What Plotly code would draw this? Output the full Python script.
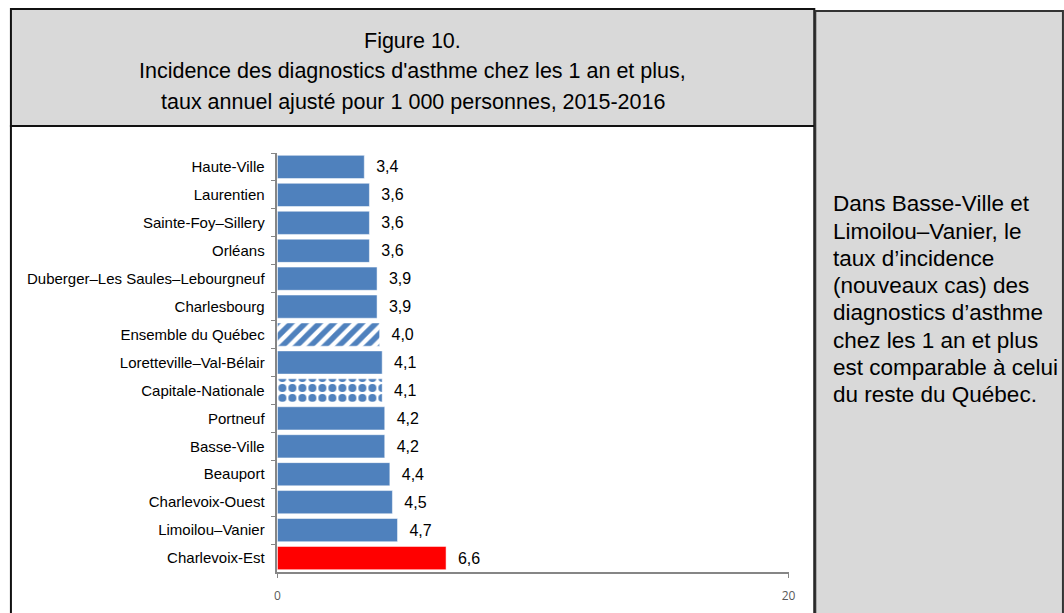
import plotly.graph_objects as go

categories = ["Haute-Ville", "Laurentien", "Sainte-Foy–Sillery", "Orléans",
              "Duberger–Les Saules–Lebourgneuf", "Charlesbourg", "Ensemble du Québec",
              "Loretteville–Val-Bélair", "Capitale-Nationale", "Portneuf", "Basse-Ville",
              "Beauport", "Charlevoix-Ouest", "Limoilou–Vanier", "Charlevoix-Est"]
values = [3.4, 3.6, 3.6, 3.6, 3.9, 3.9, 4.0, 4.1, 4.1, 4.2, 4.2, 4.4, 4.5, 4.7, 6.6]
x_ticks = [0, 20]
title_lines = ["Figure 10.",
               "Incidence des diagnostics d'asthme chez les 1 an et plus,",
               "taux annuel ajusté pour 1 000 personnes, 2015-2016"]
note_lines = ["Dans Basse-Ville et", "Limoilou–Vanier, le", "taux d’incidence",
              "(nouveaux cas) des", "diagnostics d’asthme", "chez les 1 an et plus",
              "est comparable à celui", "du reste du Québec."]

W, H = 1064, 613
BLUE = "#4F81BD"
FONT = "Liberation Sans, Arial, sans-serif"

highlight = {"Charlevoix-Est": "#FF0000"}
pattern_of = {"Ensemble du Québec": "/", "Capitale-Nationale": "."}


def px_x(p):
    return p / W


def px_y(p):
    return 1 - p / H


def fmt(v):
    return f"  {v:.1f}".replace(".", ",")


fig = go.Figure()

# plain bars
idx = [i for i, c in enumerate(categories) if c not in pattern_of]
fig.add_trace(go.Bar(
    x=[values[i] for i in idx], y=[categories[i] for i in idx], orientation="h",
    marker=dict(color=[highlight.get(categories[i], BLUE) for i in idx],
                line=dict(color="white", width=0.5)),
    text=[fmt(values[i]) for i in idx],
    textposition="outside", cliponaxis=False,
    textfont=dict(family=FONT, size=16, color="#000000"),
    hoverinfo="skip",
))
# patterned bars
for cat, shp in pattern_of.items():
    i = categories.index(cat)
    fig.add_trace(go.Bar(
        x=[values[i]], y=[cat], orientation="h",
        marker=dict(color="white", line=dict(color="white", width=0.5),
                    pattern=dict(shape=shp, fgcolor=BLUE, bgcolor="white",
                                 size=10 if shp == "/" else 10, solidity=0.55 if shp == "/" else 0.5,
                                 fillmode="replace")),
        text=[fmt(values[i])],
        textposition="outside", cliponaxis=False,
        textfont=dict(family=FONT, size=16, color="#000000"),
        hoverinfo="skip",
    ))

shapes = [
    dict(type="rect", xref="paper", yref="paper", x0=px_x(8), x1=px_x(819), y0=px_y(9), y1=px_y(126),
         fillcolor="#D9D9D9", line=dict(color="#111111", width=2), layer="below"),
    dict(type="rect", xref="paper", yref="paper", x0=px_x(8), x1=px_x(819), y0=px_y(126), y1=px_y(640),
         fillcolor="white", line=dict(color="#111111", width=2), layer="below"),
    dict(type="rect", xref="paper", yref="paper", x0=px_x(820), x1=px_x(1070), y0=px_y(11), y1=px_y(640),
         fillcolor="#D9D9D9", line=dict(color="#333333", width=2), layer="below"),
]

annotations = []
for i, t in enumerate(title_lines):
    annotations.append(dict(text=t, xref="paper", yref="paper", x=px_x(413.5), y=px_y(41 + 30.5 * i),
                            xanchor="center", yanchor="middle", showarrow=False,
                            font=dict(family=FONT, size=21.5, color="#000000")))
for i, t in enumerate(note_lines):
    annotations.append(dict(text=t, xref="paper", yref="paper", x=px_x(836), y=px_y(204 + 27.2 * i),
                            xanchor="left", yanchor="middle", showarrow=False,
                            font=dict(family=FONT, size=22.5, color="#000000")))

fig.update_layout(
    width=W, height=H, margin=dict(l=0, r=0, t=0, b=0),
    paper_bgcolor="white", plot_bgcolor="rgba(0,0,0,0)",
    separators=", ", showlegend=False, bargap=0.17, barmode="overlay",
    shapes=shapes, annotations=annotations,
    xaxis=dict(domain=[px_x(277), px_x(793)], range=[0, 20], tickvals=x_ticks,
               showgrid=False, zeroline=False, showline=True, linecolor="#868686", linewidth=1.5,
               ticks="outside", ticklen=4, tickcolor="#868686", ticklabelstandoff=8,
               tickfont=dict(family="Open Sans, sans-serif", size=12, color="#595959")),
    yaxis=dict(domain=[px_y(572), px_y(153)], autorange="reversed", type="category",
               categoryorder="array", categoryarray=categories,
               showgrid=False, showline=True, linecolor="#868686", linewidth=1.5,
               ticks="outside", ticklen=5, tickcolor="#868686", tickson="boundaries",
               tickfont=dict(family=FONT, size=15, color="#000000"), ticklabelstandoff=8),
)

fig.write_html("out.html", config={"displayModeBar": False},
               post_script="document.body.style.margin='0';document.body.style.overflow='hidden';")
